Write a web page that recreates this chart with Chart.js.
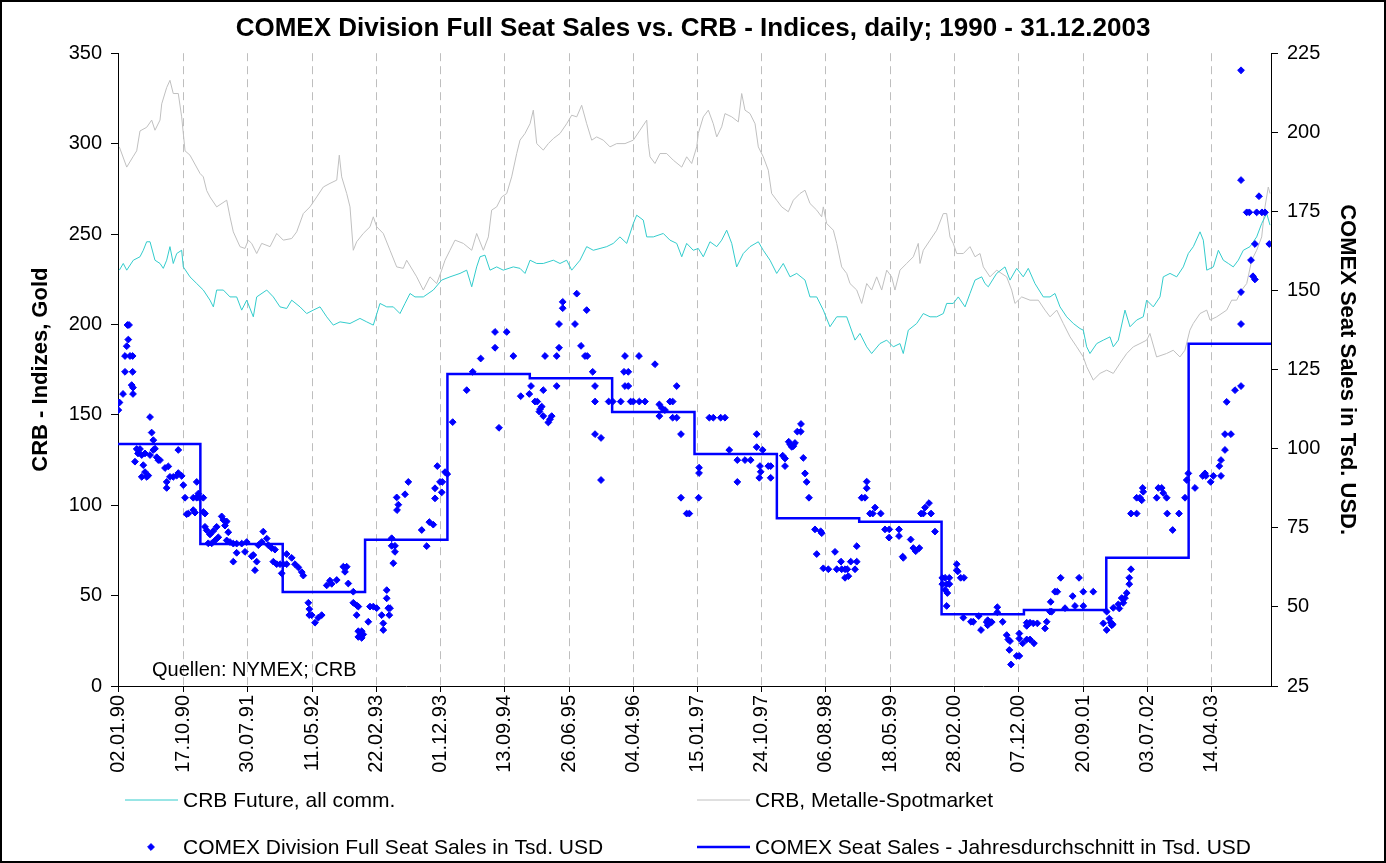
<!DOCTYPE html>
<html>
<head>
<meta charset="utf-8">
<script src="https://cdn.jsdelivr.net/npm/chart.js@4.4.1/dist/chart.umd.min.js"></script>
<style>
html,body{margin:0;padding:0;background:#fff;}
canvas{display:block;}
</style>
</head>
<body>
<canvas id="c" width="1386" height="863"></canvas>
<script>
// ---------- DATA ----------
const chartTitle = 'COMEX Division Full Seat Sales vs. CRB - Indices, daily; 1990 - 31.12.2003';
const sourceNote = 'Quellen: NYMEX; CRB';

const tickDates = ['1990-01-02','1990-10-17','1991-07-30','1992-05-11','1993-02-22','1993-12-01','1994-09-13','1995-06-26','1996-04-04','1997-01-15','1997-10-24','1998-08-06','1999-05-18','2000-02-28','2000-12-07','2001-09-20','2002-07-03','2003-04-14'];
const tickLabels = ['02.01.90','17.10.90','30.07.91','11.05.92','22.02.93','01.12.93','13.09.94','26.06.95','04.04.96','15.01.97','24.10.97','06.08.98','18.05.99','28.02.00','07.12.00','20.09.01','03.07.02','14.04.03'];

// CRB Future, all commodities  [decimal year, index]
const crbFuture = [[1990.016,230],[1990.064,233.7],[1990.106,230],[1990.186,235.5],[1990.267,237.4],[1990.307,241],[1990.348,245.7],[1990.389,245.7],[1990.449,235.5],[1990.510,233.7],
[1990.550,231],[1990.591,235.5],[1990.631,243],[1990.671,233.7],[1990.713,239.2],[1990.773,241],[1990.793,231.8],[1990.874,226.3],[1990.956,222.6],[1991.036,219],
[1991.117,213.4],[1991.158,209.7],[1991.198,219],[1991.279,219],[1991.360,215.2],[1991.441,215.2],[1991.502,207.9],[1991.563,213.4],[1991.643,204.2],[1991.684,215.2],
[1991.806,219],[1991.886,215.2],[1991.967,209.7],[1992.048,208.8],[1992.109,213.4],[1992.210,209.7],[1992.291,206],[1992.371,207.9],[1992.453,209.7],[1992.534,204.2],
[1992.614,199.6],[1992.696,201.4],[1992.817,200.5],[1992.938,203.3],[1993.020,201.4],[1993.100,199.6],[1993.181,211.6],[1993.263,209.7],[1993.343,209.7],[1993.424,206],
[1993.485,211.6],[1993.546,217.1],[1993.606,215.2],[1993.707,215.2],[1993.828,219],[1993.930,224.5],[1994.031,226.3],[1994.153,228.2],[1994.234,230],[1994.295,220.8],
[1994.355,231.8],[1994.396,237.4],[1994.456,238.3],[1994.517,230],[1994.598,231.8],[1994.678,230],[1994.800,231.8],[1994.881,231],[1994.942,228.2],[1995.003,235.5],
[1995.084,233.7],[1995.164,233.7],[1995.286,235.5],[1995.367,233.7],[1995.448,235.5],[1995.509,230],[1995.610,235.5],[1995.691,243],[1995.771,241],[1995.853,242],
[1995.934,243],[1996.014,244.8],[1996.095,248.4],[1996.177,244.8],[1996.257,255.8],[1996.298,260.4],[1996.378,257.7],[1996.420,248.4],[1996.500,248.4],[1996.621,250.3],
[1996.702,246.6],[1996.784,244.8],[1996.845,237.4],[1996.905,244.8],[1996.985,241],[1997.046,242],[1997.107,237.4],[1997.188,245.7],[1997.270,243],[1997.330,246.6],
[1997.391,252.1],[1997.452,244.8],[1997.512,231.8],[1997.592,239.2],[1997.674,243],[1997.775,245.7],[1997.835,241],[1997.917,235.5],[1997.998,228.2],[1998.078,233.7],
[1998.160,226.3],[1998.241,228.2],[1998.342,224.5],[1998.402,215.2],[1998.484,215.2],[1998.564,207.9],[1998.645,198.7],[1998.727,204.2],[1998.848,204.2],[1998.949,191.3],
[1999.009,195],[1999.091,187.6],[1999.151,183.9],[1999.252,189.4],[1999.334,191.3],[1999.414,187.6],[1999.495,189.4],[1999.535,183.9],[1999.596,196.8],[1999.698,200.5],
[1999.778,206],[1999.860,204.2],[1999.941,204.2],[2000.021,206],[2000.062,211.6],[2000.142,211.6],[2000.203,215.2],[2000.285,209.7],[2000.345,217.1],[2000.406,224.5],
[2000.487,226.3],[2000.527,222.6],[2000.567,220.8],[2000.669,228.2],[2000.770,231.8],[2000.831,224.5],[2000.912,231],[2000.992,226.3],[2001.053,231],[2001.134,222.6],
[2001.235,215.2],[2001.317,215.2],[2001.377,217.1],[2001.438,209.7],[2001.519,204.2],[2001.600,200.5],[2001.681,197.7],[2001.721,196.8],[2001.762,187.6],[2001.802,183.9],
[2001.884,189.4],[2001.964,191.3],[2002.045,193.1],[2002.085,187.6],[2002.146,191.3],[2002.227,207.9],[2002.288,198.7],[2002.369,202.4],[2002.449,204.2],[2002.490,213.4],
[2002.571,209.7],[2002.652,215.2],[2002.692,226.3],[2002.774,228.2],[2002.855,226.3],[2002.935,231.8],[2002.996,239.2],[2003.057,243],[2003.138,251.2],[2003.178,246.6],
[2003.220,230],[2003.300,231.8],[2003.361,241],[2003.421,235.5],[2003.482,233.7],[2003.542,231.8],[2003.603,235.5],[2003.664,241],[2003.745,243],[2003.826,248.4],
[2003.887,255.8],[2003.948,261.3],[2003.988,254.9]];

// CRB Metals spot market  [decimal year, index]
const crbMetals = [[1990.016,298.2],[1990.106,287],[1990.182,292.7],[1990.227,296],[1990.267,307],[1990.348,309],[1990.409,313],[1990.449,307.4],[1990.510,313],[1990.531,322],
[1990.591,331],[1990.631,335],[1990.671,327.7],[1990.732,327.7],[1990.773,314.8],[1990.814,296],[1990.874,293.6],[1990.996,283.5],[1991.036,281.6],[1991.077,274],
[1991.117,270.5],[1991.198,265],[1991.320,268.7],[1991.360,259.5],[1991.400,251.2],[1991.481,243],[1991.542,242],[1991.582,246.6],[1991.623,244.8],[1991.684,239.2],
[1991.745,244.8],[1991.846,243],[1991.927,250.3],[1992.007,246.6],[1992.109,247.5],[1992.170,251.2],[1992.250,261.3],[1992.331,265],[1992.413,270.5],[1992.493,276],
[1992.574,278],[1992.656,279.8],[1992.687,293.6],[1992.716,281.6],[1992.777,272.4],[1992.817,265],[1992.857,241],[1992.898,245.7],[1992.978,250.3],[1993.060,254],
[1993.100,259.5],[1993.141,254],[1993.221,250.3],[1993.303,241],[1993.384,231.8],[1993.464,231],[1993.505,235.5],[1993.627,226.3],[1993.707,219],[1993.788,226.3],
[1993.870,222.6],[1993.930,230],[1993.971,235.5],[1994.031,241],[1994.092,246.6],[1994.193,244.8],[1994.295,241],[1994.355,250.3],[1994.436,241],[1994.497,248.4],
[1994.537,263.2],[1994.598,265],[1994.659,270.5],[1994.720,272.4],[1994.780,281.6],[1994.841,294.5],[1994.881,301.9],[1994.942,305.6],[1995.003,311],[1995.043,318.5],
[1995.084,300],[1995.164,296.4],[1995.225,300],[1995.286,302.8],[1995.367,305.6],[1995.448,311],[1995.509,315.7],[1995.570,314.8],[1995.630,321.2],[1995.691,311],
[1995.752,301.9],[1995.812,303.7],[1995.893,301.9],[1995.974,298.2],[1996.055,300],[1996.156,300],[1996.257,301.9],[1996.338,307.4],[1996.420,313],[1996.439,300],
[1996.460,292.7],[1996.520,289],[1996.581,294.5],[1996.662,294.5],[1996.743,290.8],[1996.845,287],[1996.905,292.7],[1996.966,289],[1997.027,298.2],[1997.046,305.6],
[1997.107,314.8],[1997.168,318.5],[1997.228,311],[1997.270,303.7],[1997.330,309.3],[1997.370,316.6],[1997.452,314.8],[1997.532,312],[1997.573,327.7],[1997.613,318.5],
[1997.674,316.6],[1997.735,311],[1997.775,298.2],[1997.835,292.7],[1997.896,285.3],[1997.937,272.4],[1997.998,268.7],[1998.059,265],[1998.139,262.3],[1998.200,268.7],
[1998.281,272.4],[1998.342,274.2],[1998.402,266.9],[1998.484,263.2],[1998.544,259.5],[1998.564,265],[1998.605,255.8],[1998.686,252.1],[1998.727,244.8],[1998.787,231.8],
[1998.848,228.2],[1998.888,222.6],[1998.970,219],[1999.030,211.6],[1999.091,222.6],[1999.151,219],[1999.212,226.3],[1999.273,219],[1999.334,230],[1999.394,226.3],
[1999.434,219],[1999.495,230],[1999.576,233.7],[1999.657,237.4],[1999.717,244.8],[1999.738,233.7],[1999.778,241],[1999.860,246.6],[1999.941,252.1],[2000.021,261.3],
[2000.062,261.3],[2000.102,248.4],[2000.142,244.8],[2000.184,239.2],[2000.264,239.2],[2000.345,243],[2000.406,237.4],[2000.467,239.2],[2000.507,231.8],[2000.588,226.3],
[2000.669,230],[2000.790,226.3],[2000.851,219],[2000.891,211.6],[2000.973,215.2],[2001.074,213.4],[2001.175,213.4],[2001.256,207.9],[2001.317,204.2],[2001.398,207.9],
[2001.478,200.5],[2001.560,193.1],[2001.641,187.6],[2001.721,182],[2001.762,176.6],[2001.842,169.2],[2001.924,172.9],[2002.005,174.7],[2002.085,172.9],[2002.166,178.5],
[2002.248,183.9],[2002.328,187.6],[2002.409,189.4],[2002.490,191.3],[2002.530,195],[2002.611,182],[2002.732,183.9],[2002.813,185.7],[2002.894,182],[2002.955,185.7],
[2003.015,196.8],[2003.056,200.5],[2003.138,206],[2003.220,207.9],[2003.260,202.4],[2003.341,204.2],[2003.462,207.9],[2003.523,213.4],[2003.583,213.4],[2003.644,219],
[2003.705,222.6],[2003.766,235.5],[2003.826,241],[2003.887,248.4],[2003.927,265],[2003.967,276],[2003.988,272.4]];

// COMEX Division full seat sales (Tsd. USD)  [decimal year, price]
const seatSales = [[1990.004,112.2],[1990.006,114.6],[1990.018,114.6],[1990.061,117.3],[1990.085,124.3],[1990.085,129.3],[1990.106,132.4],[1990.125,134.5],[1990.115,139.1],[1990.134,139.1],[1990.146,129.3],[1990.178,129.3],[1990.166,120.1],[1990.182,117.3],[1990.178,124.3],[1990.182,119.3],
[1990.206,95.9],[1990.227,99.9],[1990.267,99.9],[1990.243,98.5],[1990.288,98],[1990.328,98.5],[1990.288,91.1],[1990.328,92.6],[1990.368,91.5],[1990.307,94.8],[1990.348,91.1],[1990.389,110],[1990.409,105.1],[1990.429,102.7],[1990.389,98],[1990.429,99.6],[1990.470,97.3],[1990.510,96.4],[1990.489,96.4],[1990.449,100],[1990.571,93.9],[1990.611,94.4],[1990.591,89.5],[1990.591,87.6],[1990.631,91.1],[1990.671,91.1],[1990.713,91.5],[1990.732,99.6],[1990.732,92.3],[1990.773,91.4],[1990.793,88.5],[1990.814,84.5],[1990.834,79.3],[1990.854,79.5],[1990.914,80.6],[1990.935,79.8],[1990.914,84.5],[1990.956,84.5],[1990.990,84.5],[1991.036,84.5],[1990.956,89.5],[1990.975,85.8],[1991.036,80],[1991.056,79.5],
[1991.056,75.3],[1991.077,74.2],[1991.117,72.9],[1991.157,74],[1991.198,75.3],[1991.096,70.1],[1991.138,70.1],[1991.178,71],[1991.218,72],[1991.259,78.6],[1991.279,77.5],[1991.299,75.7],[1991.320,77],[1991.339,73.6],[1991.320,71],[1991.360,70.5],[1991.400,70],[1991.441,70],[1991.502,70],[1991.563,70.5],[1991.441,67.1],[1991.400,64.3],[1991.542,67.4],[1991.623,66],[1991.643,66.4],[1991.663,61.6],[1991.684,64.3],[1991.704,69.5],[1991.745,70.5],[1991.764,73.8],[1991.806,71.6],[1991.825,69.5],[1991.866,68.6],[1991.906,68.1],[1991.886,64.3],[1991.927,63.5],[1991.967,63.5],[1992.007,63.5],[1992.048,63.5],[1991.988,60.6],[1992.048,66.7],[1992.109,65.5],[1992.149,63.5],[1992.189,62.5],[1992.231,61],[1992.250,59.9],
[1992.311,51.3],[1992.323,49.3],[1992.323,47.4],[1992.352,47.4],[1992.392,45],[1992.432,46.6],[1992.473,47.4],[1992.534,56.8],[1992.574,58.3],[1992.595,57.3],[1992.656,58.5],[1992.736,62.7],[1992.777,62.7],[1992.756,61.1],[1992.796,57.4],[1992.857,54.8],[1992.857,51.3],[1992.898,50.5],[1992.918,50.1],[1992.898,47.4],[1992.918,42.3],[1992.959,42.3],[1992.938,41],[1992.918,40.5],[1992.978,41.3],[1992.959,40.2],[1993.039,45.3],
[1993.060,50.1],[1993.100,50.1],[1993.141,49.6],[1993.202,47.4],[1993.221,44.8],[1993.221,42.7],[1993.263,52.7],[1993.263,55.3],[1993.282,49.6],[1993.303,49.6],[1993.294,47.4],[1993.343,63.8],[1993.363,67.4],[1993.323,69.3],[1993.363,69.3],[1993.323,71.7],[1993.388,80.6],[1993.404,82.3],[1993.384,84.6],[1993.485,85.6],[1993.525,89.5],[1993.688,74.3],[1993.748,69.2],[1993.780,76.8],[1993.828,76],[1993.849,84.3],[1993.849,87.5],[1993.877,94.5],[1993.910,89.5],[1993.938,89.5],[1993.931,86.2],[1993.971,92.6],[1993.998,92],
[1994.064,108.4],[1994.234,118.5],[1994.307,124.3],[1994.404,128.5],[1994.578,131.9],[1994.578,136.9],[1994.720,136.9],[1994.626,106.6],[1994.800,129.3],[1994.890,116.6],[1994.994,117.3],
[1995.015,119.8],[1995.063,114.9],[1995.091,114.9],[1995.124,112.5],[1995.145,113.3],[1995.116,111.7],[1995.164,110.3],[1995.164,118.5],[1995.185,129.3],[1995.225,108.3],[1995.245,109.3],[1995.266,110.3],[1995.327,119.8],[1995.327,129.3],[1995.355,131.9],[1995.355,139.4],[1995.400,144.4],[1995.400,146.4],[1995.549,139.4],[1995.570,149],[1995.691,143.8],[1995.622,132.5],[1995.670,129.3],[1995.698,129.3],[1995.764,124.3],[1995.792,119.8],[1995.792,114.9],[1995.792,104.6],[1995.865,103.4],[1995.865,90.1],[1995.958,114.9],[1996.007,114.9],
[1996.104,114.9],[1996.144,124.3],[1996.196,124.3],[1996.156,129.3],[1996.156,119.8],[1996.196,119.8],[1996.225,114.9],[1996.257,114.9],[1996.330,114.9],[1996.399,114.9],[1996.326,129.3],[1996.520,126.7],[1996.573,114],[1996.602,112.9],[1996.642,112.2],[1996.573,110.3],[1996.702,114.9],[1996.735,114.9],[1996.784,119.8],[1996.735,109.8],[1996.784,109.8],[1996.836,104.6],[1996.836,84.5],[1996.905,79.5],[1996.937,79.5],
[1997.055,94],[1997.055,92.3],[1997.050,84.5],[1997.180,109.8],[1997.228,109.8],[1997.318,109.8],[1997.370,109.8],[1997.422,99.6],[1997.520,96.4],[1997.613,96.4],[1997.682,96.4],[1997.520,89.5],[1997.755,104.6],[1997.755,100.5],[1997.828,99.6],[1997.795,94.5],[1997.804,92.7],[1997.787,90.8],[1997.896,94.5],[1997.925,94.5],[1997.925,90.8],
[1998.071,97.8],[1998.099,96.9],[1998.099,94.5],[1998.144,102.2],[1998.160,101.4],[1998.180,100.6],[1998.200,100.8],[1998.220,101.8],[1998.248,105.4],[1998.290,105.4],[1998.293,107.8],[1998.321,97.1],[1998.342,92.2],[1998.362,89.5],[1998.390,84.5],[1998.463,74.5],[1998.532,73.9],[1998.545,73.3],[1998.484,66.7],[1998.564,62.2],[1998.625,61.9],[1998.706,67.4],[1998.727,61.9],[1998.787,61.9],[1998.828,61.9],[1998.855,61.9],[1998.779,64.3],[1998.828,59.2],[1998.868,59.7],[1998.897,64.3],[1998.970,64.3],[1998.949,61.9],[1998.970,69.2],
[1999.030,84.5],[1999.070,84.5],[1999.091,89.6],[1999.091,87.5],[1999.131,79.5],[1999.164,79.5],[1999.192,81.4],[1999.261,79.5],[1999.313,74.5],[1999.365,74.5],[1999.362,71.9],[1999.483,74.5],[1999.483,72.4],[1999.528,65.9],[1999.535,65.5],[1999.625,71.3],[1999.657,68.6],[1999.686,67.6],[1999.730,68.6],[1999.750,79.5],[1999.778,79.5],[1999.799,81.4],[1999.847,82.8],[1999.872,79.5],[1999.920,73.8],
[2000.009,59.2],[2000.042,59.2],[2000.094,59.2],[2000.009,57.2],[2000.062,57.2],[2000.094,57.2],[2000.042,55.4],[2000.070,54.4],[2000.062,50.3],[2000.184,63.5],[2000.184,61.6],[2000.196,61.2],[2000.232,59.2],[2000.272,59.2],[2000.264,46.6],[2000.357,45.3],[2000.385,45.3],[2000.479,42.7],[2000.451,47.1],[2000.560,45.8],[2000.560,44.2],[2000.548,45.2],[2000.588,45.2],[2000.609,45.2],[2000.677,49.9],[2000.677,48.3],[2000.742,45.3],[2000.791,41.1],[2000.810,39.7],[2000.831,39.2],[2000.823,36.4],[2000.843,31.8],[2000.912,34.5],[2000.944,34.5],[2000.944,41.6],[2000.944,40],[2000.985,38.5],
[2001.034,39.7],[2001.074,39.7],[2001.122,38.5],[2001.034,45],[2001.074,45],[2001.114,44.8],[2001.163,44.8],[2001.034,44],[2001.256,43.2],[2001.276,45.3],[2001.317,48.5],[2001.337,48.5],[2001.325,51.6],[2001.377,54.8],[2001.405,54.8],[2001.446,59.2],[2001.499,49.6],[2001.592,53.4],[2001.620,50.3],[2001.669,59.2],[2001.721,54.8],[2001.721,50.3],[2001.842,54.8],[2001.964,44.8],
[2002.005,48.5],[2002.005,42.7],[2002.037,46.3],[2002.054,45.1],[2002.078,44.5],[2002.066,44.2],[2002.085,49.7],[2002.146,50.8],[2002.158,49.5],[2002.187,52.8],[2002.207,51.3],[2002.227,52.8],[2002.248,54.4],[2002.279,57.2],[2002.279,59.2],[2002.300,61.9],[2002.300,79.5],[2002.369,79.5],[2002.369,84.5],[2002.409,84.5],[2002.430,83.7],[2002.442,87.6],[2002.449,86.4],[2002.612,84.5],[2002.632,87.6],[2002.673,87.6],[2002.692,86],[2002.733,84.5],[2002.740,79.5],[2002.806,74.3],[2002.883,79.5],[2002.956,84.5],
[2002.977,90.1],[2002.996,92.2],[2003.077,87.6],[2003.171,91.4],[2003.198,92.2],[2003.210,91.4],[2003.268,89.5],[2003.300,91.4],[2003.372,94.5],[2003.393,96.4],[2003.393,91.4],[2003.441,99.6],[2003.441,104.6],[2003.514,104.6],[2003.462,114.8],[2003.563,118.5],[2003.636,119.8],[2003.636,139.4],[2003.636,149.5],[2003.636,184.9],[2003.636,219.6],[2003.705,174.7],[2003.737,174.7],[2003.826,174.7],[2003.890,174.7],[2003.927,174.7],[2003.854,179.8],[2003.805,164.7],[2003.979,164.7],[2003.757,159.6],[2003.781,154.5],[2003.805,153.5]];

// Annual average of seat sales (Tsd. USD); last entry closes the 2003 step
const annualYears = [1990,1991,1992,1993,1994,1995,1996,1997,1998,1999,2000,2001,2002,2003,2004];
const annualAvg   = [101.5,69.9,54.7,71.2,123.6,122.3,111.6,98.3,78.0,76.9,47.7,49.0,65.5,133.2,133.2];

// ---------- CHART ----------
const FONT = '"Liberation Sans", Arial, Helvetica, sans-serif';
Chart.defaults.font.family = FONT;
Chart.defaults.color = '#000';

function decYear(iso){
  const [y,m,d] = iso.split('-').map(Number);
  const s = Date.UTC(y,0,1), e = Date.UTC(y+1,0,1);
  return y + (Date.UTC(y,m-1,d) - s) / (e - s);
}
const tickValues = tickDates.map(decYear);
const toXY = arr => arr.map(p => ({x:p[0], y:p[1]}));

const COL_TEAL = '#33CCCC', COL_GRAY = '#C0C0C0', COL_BLUE = '#0000FF';

const decorPlugin = {
  id: 'decor',
  beforeDraw(chart){
    const {ctx, width, height} = chart;
    ctx.save(); ctx.fillStyle = '#fff'; ctx.fillRect(0,0,width,height); ctx.restore();
  },
  afterDraw(chart){
    const {ctx, chartArea: ca, width, height} = chart;
    const ds = chart.data.datasets;
    ctx.save();
    // source note inside the plot
    ctx.font = '20px ' + FONT;
    ctx.fillStyle = '#000';
    ctx.textAlign = 'left';
    ctx.textBaseline = 'middle';
    ctx.fillText(sourceNote, ca.left + 34, ca.bottom - 16);

    // legend (two columns, two rows)
    const legTop = chart.scales.x.bottom;
    const rowsY = [legTop + 24, legTop + 71];
    const colsX = [125, 697];
    const items = [[2,0,0],[3,1,0],[0,0,1],[1,1,1]]; // [datasetIndex, col, row]
    ctx.font = '21px ' + FONT;
    items.forEach(([di,c,r]) => {
      const d = ds[di];
      const x = colsX[c], y = rowsY[r];
      if (d.showLine === false) {
        const rr = d.pointRadius;
        ctx.fillStyle = d.backgroundColor; ctx.strokeStyle = d.borderColor; ctx.lineWidth = 1;
        ctx.beginPath();
        ctx.moveTo(x+26, y-rr); ctx.lineTo(x+26+rr, y); ctx.lineTo(x+26, y+rr); ctx.lineTo(x+26-rr, y); ctx.closePath();
        ctx.fill(); ctx.stroke();
      } else {
        ctx.strokeStyle = d.borderColor; ctx.lineWidth = d.borderWidth;
        ctx.beginPath(); ctx.moveTo(x, y); ctx.lineTo(x + 53, y); ctx.stroke();
      }
      ctx.fillStyle = '#000';
      ctx.fillText(d.label, x + 58, y + 1);
    });

    // outer frame
    ctx.strokeStyle = '#000'; ctx.lineWidth = 2;
    ctx.strokeRect(1, 1, width - 2, height - 2);
    ctx.restore();
  }
};

new Chart(document.getElementById('c'), {
  type: 'scatter',
  data: {
    datasets: [
      { label: 'COMEX Division Full Seat Sales in Tsd. USD', data: toXY(seatSales), yAxisID: 'y2',
        showLine: false, pointStyle: 'rectRot', pointRadius: 3.4, borderWidth: 1,
        backgroundColor: COL_BLUE, borderColor: COL_BLUE, order: 0 },
      { label: 'COMEX Seat Sales - Jahresdurchschnitt in Tsd. USD', type: 'line',
        data: annualYears.map((y,i) => ({x:y, y:annualAvg[i]})), yAxisID: 'y2',
        stepped: true, borderColor: COL_BLUE, borderWidth: 2.5, pointRadius: 0, fill: false, order: 1 },
      { label: 'CRB Future, all comm.', type: 'line', data: toXY(crbFuture), yAxisID: 'y',
        borderColor: COL_TEAL, borderWidth: 1, pointRadius: 0, fill: false, tension: 0, order: 2 },
      { label: 'CRB, Metalle-Spotmarket', type: 'line', data: toXY(crbMetals), yAxisID: 'y',
        borderColor: COL_GRAY, borderWidth: 1, pointRadius: 0, fill: false, tension: 0, order: 3 }
    ]
  },
  options: {
    responsive: false,
    animation: false,
    devicePixelRatio: 1,
    layout: { padding: { top: 0, left: 0, right: 0, bottom: 87 } },
    plugins: {
      legend: { display: false },
      tooltip: { enabled: false },
      title: { display: true, text: chartTitle, color: '#000',
        font: { size: 26, weight: 'bold', lineHeight: 1.2 }, padding: { top: 13, bottom: 9 } }
    },
    scales: {
      x: {
        type: 'linear', position: 'bottom', min: 1990, max: 2004,
        afterBuildTicks: s => { s.ticks = tickValues.map(v => ({value: v})); },
        afterFit: s => { s.height = 90; },
        ticks: { autoSkip: false, maxRotation: 90, minRotation: 90, padding: 3,
          font: { size: 20 }, color: '#000', callback: (v, i) => tickLabels[i] },
        grid: { display: true, drawOnChartArea: true, drawTicks: true, tickLength: 6,
          color: '#BEBEBE', lineWidth: 1, tickColor: '#000', tickBorderDash: [] },
        border: { display: true, color: '#000', width: 1, dash: [8, 5] }
      },
      y: {
        position: 'left', min: 0, max: 350,
        afterFit: s => { s.width = 118; },
        ticks: { stepSize: 50, padding: 9, font: { size: 20 }, color: '#000' },
        grid: { drawOnChartArea: false, drawTicks: true, tickLength: 7, tickColor: '#000' },
        border: { display: true, color: '#000', width: 1 },
        title: { display: true, text: 'CRB - Indizes, Gold', color: '#000',
          font: { size: 22, weight: 'bold' }, padding: { top: 28, bottom: 0 } }
      },
      y2: {
        position: 'right', min: 25, max: 225,
        afterFit: s => { s.width = 115; },
        ticks: { stepSize: 25, padding: 9, font: { size: 20 }, color: '#000' },
        grid: { drawOnChartArea: false, drawTicks: true, tickLength: 7, tickColor: '#000' },
        border: { display: true, color: '#000', width: 1 },
        title: { display: true, text: 'COMEX Seat Sales in Tsd. USD.', color: '#000',
          font: { size: 22, weight: 'bold' }, padding: { top: 26, bottom: 0 } }
      }
    }
  },
  plugins: [decorPlugin]
});
</script>
</body>
</html>
